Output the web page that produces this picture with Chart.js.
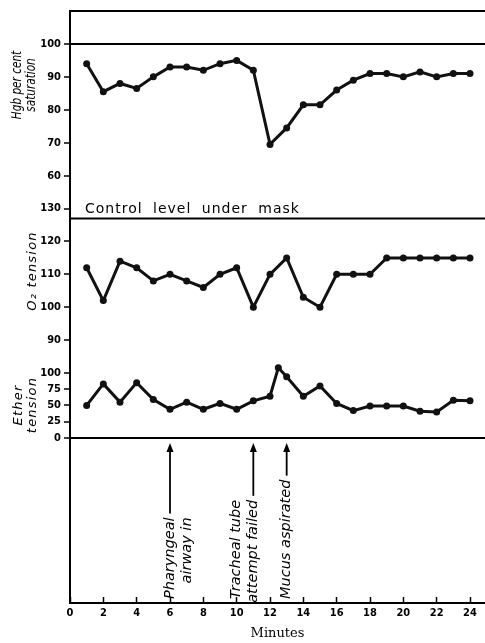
<!DOCTYPE html>
<html>
<head>
<meta charset="utf-8">
<script src="https://cdn.jsdelivr.net/npm/chart.js@4.4.1/dist/chart.umd.min.js"></script>
<style>
  html, body { margin: 0; padding: 0; background: #fff; }
  #wrap { width: 485px; height: 643px; position: relative; }
</style>
</head>
<body>
<div id="wrap"><canvas id="minutes"></canvas></div>
<script>
// values
const minutes = [1, 2, 3, 4, 5, 6, 7, 8, 9, 10, 11, 12, 13, 14, 15, 16, 17, 18, 19, 20, 21, 22, 23, 24];
const hbSaturation = [94, 85.5, 88, 86.5, 90, 93, 93, 92, 94, 95, 92, 69.5, 74.5, 81.5, 81.5, 86, 89, 91, 91, 90, 91.5, 90, 91, 91];
const o2Tension = [112, 102, 114, 112, 108, 110, 108, 106, 110, 112, 100, 110, 115, 103, 100, 110, 110, 110, 115, 115, 115, 115, 115, 115];
const etherMinutes = [1, 2, 3, 4, 5, 6, 7, 8, 9, 10, 11, 12, 12.5, 13, 14, 15, 16, 17, 18, 19, 20, 21, 22, 23, 24];
const etherTension = [50, 83, 55, 85, 59, 44, 55, 44, 53, 44, 57, 64, 108, 94, 64, 80, 53, 42, 49, 49, 49, 41, 40, 58, 57];
const o2ControlLevel = 127;

const minuteTicks = [0, 2, 4, 6, 8, 10, 12, 14, 16, 18, 20, 22, 24];
const hbTicks = [60, 70, 80, 90, 100];
const o2Ticks = [90, 100, 110, 120, 130];
const etherTicks = [0, 25, 50, 75, 100];

const eventMinutes = [6, 11, 13];
const eventLabels = [['Pharyngeal', 'airway in'], ['Tracheal tube', 'attempt failed'], ['Mucus aspirated']];
const eventArrowLine = [0, 1, 0];

const X_MAX = 24.9;
const tickFont = { family: '"Liberation Sans Narrow", "DejaVu Sans Condensed", "DejaVu Sans"', size: 11, weight: 'bold' };

const lineStyle = {
  borderColor: '#111',
  backgroundColor: '#111',
  borderWidth: 3,
  pointRadius: 3.5,
  pointBackgroundColor: '#111',
  pointBorderWidth: 0,
  tension: 0,
  clip: false
};

function pts(xs, ys) {
  return xs.map((m, i) => ({ x: m, y: ys[i] }));
}

function setTicks(list) {
  return scale => { scale.ticks = list.map(v => ({ value: v })); };
}

function panelAxis(ticks, min, max, weight, order, lineAt) {
  return {
    type: 'linear',
    position: 'left',
    stack: 'panels',
    stackWeight: weight,
    weight: order,
    min: min,
    max: max,
    afterBuildTicks: setTicks(ticks),
    afterFit: s => { s.width = 70; },
    ticks: { autoSkip: false, color: '#000', font: tickFont, padding: 3 },
    grid: {
      color: c => (c.tick && c.tick.value === lineAt) ? '#000' : 'rgba(0,0,0,0)',
      lineWidth: 2,
      tickColor: '#000',
      tickLength: 6,
      tickWidth: 1.5
    },
    border: { color: '#000', width: 2 }
  };
}

// rotated text, reading upward, lines stacked to the right
function upText(ctx, lines, cx, cy, gap, squeeze, spacing) {
  ctx.save();
  ctx.translate(cx, cy);
  ctx.rotate(-Math.PI / 2);
  ctx.scale(squeeze, 1);
  ctx.letterSpacing = spacing + 'px';
  ctx.textAlign = 'center';
  ctx.textBaseline = 'middle';
  lines.forEach((t, i) => ctx.fillText(t, 0, (i - (lines.length - 1) / 2) * gap));
  ctx.restore();
}

const sketchExtras = {
  id: 'sketchExtras',
  afterDatasetsDraw(chart) {
    const { ctx, chartArea, scales } = chart;
    const { x, yO2, yEther } = scales;
    ctx.save();
    ctx.strokeStyle = '#000';
    ctx.fillStyle = '#000';

    // top frame
    ctx.lineWidth = 2;
    ctx.beginPath();
    ctx.moveTo(chartArea.left, chartArea.top);
    ctx.lineTo(chartArea.right, chartArea.top);
    ctx.stroke();

    // control level label
    ctx.font = '14px "DejaVu Sans"';
    ctx.letterSpacing = '1px';
    ctx.wordSpacing = '5px';
    ctx.textAlign = 'left';
    ctx.textBaseline = 'alphabetic';
    ctx.fillText('Control level under mask', chartArea.left + 15, yO2.getPixelForValue(o2ControlLevel) - 5);
    ctx.letterSpacing = '0px';
    ctx.wordSpacing = '0px';

    // panel titles
    ctx.font = 'italic 14px "DejaVu Sans"';
    upText(ctx, ['Hgb per cent', 'saturation'], 24, 85, 14, 0.75, 0);
    ctx.font = 'italic 13px "DejaVu Sans"';
    upText(ctx, ['O\u2082 tension'], 33, 271, 13, 1, 1.2);
    upText(ctx, ['Ether', 'tension'], 26, 405, 14, 1, 1.2);

    // event arrows
    const tipY = yEther.getPixelForValue(0) + 5;
    const baseY = chartArea.bottom - 4;
    ctx.font = 'italic 14.5px "DejaVu Sans"';
    ctx.textBaseline = 'middle';
    eventMinutes.forEach((m, k) => {
      const px = x.getPixelForValue(m);
      const lines = eventLabels[k];
      const a = eventArrowLine[k];
      const endLen = ctx.measureText(lines[0]).width;
      ctx.save();
      ctx.translate(px, baseY);
      ctx.rotate(-Math.PI / 2);
      lines.forEach((t, i) => {
        ctx.textAlign = i === 0 ? 'left' : 'right';
        ctx.fillText(t, i === 0 ? 0 : endLen, (i - a) * 17);
      });
      const armStart = endLen + 4;
      const tip = baseY - tipY;
      ctx.lineWidth = 1.8;
      ctx.beginPath();
      ctx.moveTo(armStart, 0);
      ctx.lineTo(tip - 6, 0);
      ctx.stroke();
      ctx.beginPath();
      ctx.moveTo(tip, 0);
      ctx.lineTo(tip - 9, -3.5);
      ctx.lineTo(tip - 9, 3.5);
      ctx.closePath();
      ctx.fill();
      ctx.restore();
    });
    ctx.restore();
  }
};

new Chart(document.getElementById('minutes'), {
  type: 'line',
  data: {
    datasets: [
      Object.assign({ label: 'Hgb', yAxisID: 'yHb', data: pts(minutes, hbSaturation) }, lineStyle),
      Object.assign({ label: 'O2', yAxisID: 'yO2', data: pts(minutes, o2Tension) }, lineStyle),
      Object.assign({ label: 'Ether', yAxisID: 'yEther', data: pts(etherMinutes, etherTension) }, lineStyle),
      {
        label: 'Control level', yAxisID: 'yO2',
        data: [{ x: 0, y: o2ControlLevel }, { x: X_MAX, y: o2ControlLevel }],
        borderColor: '#000', borderWidth: 2, pointRadius: 0
      }
    ]
  },
  options: {
    responsive: true,
    maintainAspectRatio: false,
    animation: false,
    events: [],
    layout: { autoPadding: false, padding: { top: 11, left: 0, right: 0, bottom: 2 } },
    plugins: { legend: { display: false }, tooltip: { enabled: false } },
    scales: {
      x: {
        type: 'linear',
        position: 'bottom',
        min: 0,
        max: X_MAX,
        afterBuildTicks: setTicks(minuteTicks),
        afterFit: s => { s.height = 38; s.paddingLeft = 0; s.paddingRight = 0; },
        ticks: { autoSkip: false, color: '#000', font: tickFont, padding: 10, maxRotation: 0 },
        grid: { drawOnChartArea: false, tickLength: -6, tickColor: '#000', tickWidth: 1.5 },
        border: { color: '#000', width: 2 },
        title: {
          display: true, text: 'Minutes', color: '#000',
          font: { family: '"DejaVu Serif"', size: 13 },
          padding: { top: 5, bottom: 0 }
        }
      },
      yHb: panelAxis(hbTicks, 50, 110, 197.5, 3, 100),
      yO2: panelAxis(o2Ticks, 80, 130, 164.2, 2, null),
      yEther: panelAxis(etherTicks, -254, 100, 230, 1, 0)
    }
  },
  plugins: [sketchExtras]
});
</script>
</body>
</html>
